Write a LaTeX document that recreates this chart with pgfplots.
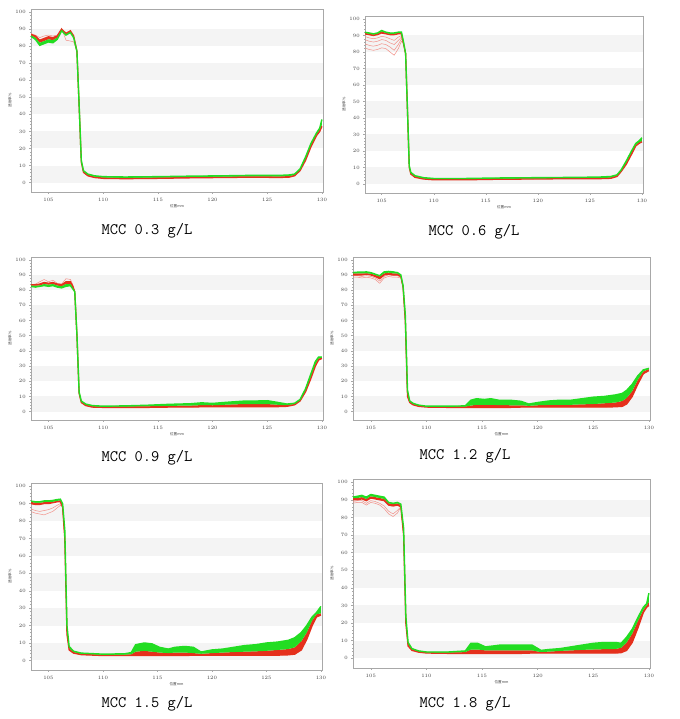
\documentclass[border=0pt]{standalone}
\usepackage{fontspec}
\setmainfont{Liberation Serif}
\newfontfamily\cjk{Noto Sans CJK SC}
\usepackage{pgfplots}
\usepackage{pgfplotstable}
\pgfplotsset{compat=1.18}
\usepgfplotslibrary{fillbetween}

\definecolor{lgreen}{HTML}{22DD22}
\definecolor{lred}{HTML}{E5301C}
\definecolor{pinkl}{HTML}{F29088}
\definecolor{bandgray}{HTML}{F4F4F4}
\definecolor{axframe}{HTML}{A8A8A8}

% MCC 0.3 g/L
\pgfplotstableread{
x r m g p1 p2 p3 p4
103.35 87 86.5 86 87.5 nan nan nan
103.8 86 85 84 86.5 nan nan nan
104.2 83.5 82 80.5 85 nan nan nan
104.6 84.5 83 81.5 86 nan nan nan
105.0 85.5 84 82.5 86.5 nan nan nan
105.4 85 83.5 82 86 nan nan nan
105.8 86 85 84 86.5 nan nan nan
106.2 90 89.5 89 90.5 nan nan nan
106.6 87.5 87 86.5 83.5 nan nan nan
107.0 89 88.5 88 83 nan nan nan
107.3 86 85.5 85 82.5 nan nan nan
107.6 77 77 77 77 nan nan nan
107.8 45 45 46 45 nan nan nan
108.0 12 12 13 nan nan nan nan
108.2 6 6.5 7 nan nan nan nan
108.6 4 4.5 5 nan nan nan nan
109.2 3 3.5 4 nan nan nan nan
110 2.5 3 3.5 nan nan nan nan
112 2.3 2.8 3.3 nan nan nan nan
115 2.5 3 3.5 nan nan nan nan
118 2.8 3.3 3.8 nan nan nan nan
121 3 3.5 4 nan nan nan nan
124 3.2 3.7 4.3 nan nan nan nan
126 3 3.6 4.2 nan nan nan nan
127 3.2 3.8 4.5 nan nan nan nan
127.5 4 4.5 5 nan nan nan nan
128 7 7.5 8 nan nan nan nan
128.5 13 14 15 nan nan nan nan
129 21 22 23 nan nan nan nan
129.5 27.5 28.5 29 nan nan nan nan
129.8 30 31 32 nan nan nan nan
130 33 34 37 nan nan nan nan
}\tA

% MCC 0.6 g/L
\pgfplotstableread{
x r m g p1 p2 p3 p4
103.35 91 91.5 92 89.5 87.5 85 82.5
103.8 90.5 91 91.5 88.5 86.5 84 81.5
104.2 90 90.5 91 88 86 83.5 81
104.6 90.5 91 91.5 88.5 86.5 84 81.5
105.0 91.5 92.5 93 89.5 87.5 85 82.5
105.4 91 91.5 92 89 87 84.5 82
105.8 90.5 91 91.5 88 85.5 83 80
106.2 90.5 91 91.5 87 84.5 81 78
106.6 91 91.5 92 89 87 84.5 82
106.9 91 91.5 92 90 89 88 86.5
107.1 85 85.5 86 85 85 85 85
107.3 79 79 79 79 79 79 79
107.5 40 40 41 nan nan nan nan
107.65 10 10.5 11 nan nan nan nan
107.8 6 6.5 7 nan nan nan nan
108.2 4 4.5 5 nan nan nan nan
109 3 3.3 3.8 nan nan nan nan
110 2.5 2.8 3.3 nan nan nan nan
113 2.5 2.8 3.3 nan nan nan nan
116 2.8 3.1 3.6 nan nan nan nan
120 3 3.3 3.8 nan nan nan nan
124 3.2 3.5 4 nan nan nan nan
126 3.2 3.6 4.2 nan nan nan nan
127 3.4 3.8 4.5 nan nan nan nan
127.6 4.5 5 5.5 nan nan nan nan
128 7.5 8 8.5 nan nan nan nan
128.5 12 13 14 nan nan nan nan
129 18 19 20 nan nan nan nan
129.4 23 23.5 24.5 nan nan nan nan
129.7 24.5 25 26 nan nan nan nan
130 25.5 26 28 nan nan nan nan
}\tB

% MCC 0.9 g/L
\pgfplotstableread{
x r m g p1 p2 p3 p4
103.35 83.5 83 82.5 83.5 nan nan nan
103.8 83.5 83 82 84 nan nan nan
104.2 84 83 82.5 85.5 nan nan nan
104.6 85 84 83 87 nan nan nan
105.0 84.5 83.5 82.5 85.5 nan nan nan
105.4 85 84 83 86.5 nan nan nan
105.8 84 83 82 84.5 nan nan nan
106.2 83.5 82.5 81.5 84 nan nan nan
106.6 85.5 84 82.5 87.5 nan nan nan
107.0 85.5 84 83 87 nan nan nan
107.2 83 82 81 84 nan nan nan
107.4 79 79 79 79 nan nan nan
107.6 50 50 51 nan nan nan nan
107.8 12 12 13 nan nan nan nan
108.0 6 6.5 7 nan nan nan nan
108.4 4 4.5 5 nan nan nan nan
109 3 3.5 4 nan nan nan nan
110 2.8 3.2 3.6 nan nan nan nan
112 2.8 3.3 3.8 nan nan nan nan
114 2.8 3.5 4.2 nan nan nan nan
116 3 3.8 4.8 nan nan nan nan
118 3 4 5.2 nan nan nan nan
119 3.2 4.3 5.8 nan nan nan nan
120 3.2 4.2 5.4 nan nan nan nan
121 3.3 4.5 6 nan nan nan nan
122 3.3 4.8 6.5 nan nan nan nan
123 3.3 5 7 nan nan nan nan
124 3.3 5 7 nan nan nan nan
125 3.3 5 7.2 nan nan nan nan
126 3.3 4.5 6 nan nan nan nan
126.8 3.5 4.2 5 nan nan nan nan
127.5 4.5 5 5.5 nan nan nan nan
128 7 7.5 8 nan nan nan nan
128.5 13 14 15 nan nan nan nan
129 22 23 25 nan nan nan nan
129.4 30 31 33 nan nan nan nan
129.7 34 35 36 nan nan nan nan
130 35 35.5 36 nan nan nan nan
}\tC

% MCC 1.2 g/L
\pgfplotstableread{
x r m g p1 p2 p3 p4
103.35 90 91 91.5 88.5 89.5 nan nan
103.8 90 91 91.8 88.5 89.5 nan nan
104.2 90 91 91.8 88 89 nan nan
104.6 90.5 91 92 88.5 89.5 nan nan
105.0 90 90.8 91.5 88 89 nan nan
105.4 89 90 90.5 87 88 nan nan
105.8 87.5 89 89.5 84.5 86 nan nan
106.2 90 91 92 88 89 nan nan
106.6 90.5 91.5 92.3 89 90 nan nan
107.0 90 91 92 88.5 89.5 nan nan
107.4 90 91 91.5 88.5 89.5 nan nan
107.7 89 89.5 90 88 88.5 nan nan
107.9 82 82.5 83 82 82 nan nan
108.1 60 62 64 60 60 nan nan
108.3 10 12 14 10 10 nan nan
108.5 6 6.5 7 nan nan nan nan
108.8 4.5 5 5.5 nan nan nan nan
109.3 3.5 4 4.3 nan nan nan nan
110 3 3.3 3.6 nan nan nan nan
112 2.8 3.2 3.6 nan nan nan nan
113.5 2.8 3.3 3.8 nan nan nan nan
114 2.8 4 7.5 nan nan nan nan
114.5 2.8 4.5 8.5 nan nan nan nan
115.2 2.8 4.5 8 nan nan nan nan
115.8 2.8 4.5 8.5 nan nan nan nan
116.5 2.8 4.3 7.5 nan nan nan nan
117.5 2.8 4.2 7.5 nan nan nan nan
118.5 3 4.2 6.8 nan nan nan nan
119.2 3 3.8 5 nan nan nan nan
120 3 4.2 6 nan nan nan nan
121 3 4.4 7 nan nan nan nan
122 3 4.5 7.5 nan nan nan nan
123 3 4.5 7.5 nan nan nan nan
124 3 4.8 8.5 nan nan nan nan
125 3 5 9.5 nan nan nan nan
126 3 5.5 10 nan nan nan nan
127 3.2 6 11 nan nan nan nan
127.6 3.5 7 12 nan nan nan nan
128 5 9 14 nan nan nan nan
128.5 10 13.5 18 nan nan nan nan
129 18 21 23.5 nan nan nan nan
129.5 25 26.5 27.5 nan nan nan nan
130 27 28 28.5 nan nan nan nan
}\tD

% MCC 1.5 g/L
\pgfplotstableread{
x r m g p1 p2 p3 p4
103.35 90 91 91.5 87 85.5 nan nan
103.8 89.5 90.5 91 86 84.5 nan nan
104.2 89.5 90.5 91 85.5 84 nan nan
104.6 90 90.8 91.5 86 83.5 nan nan
105.0 90 91 91.5 86.5 84.5 nan nan
105.4 90.5 91 91.8 87.5 85.5 nan nan
105.8 91 91.5 92.3 89 87.5 nan nan
106.1 91 92 92.5 90 89 nan nan
106.3 88 89 90 88 88 nan nan
106.5 70 72 75 70 70 nan nan
106.7 15 17 20 nan nan nan nan
106.9 6 7 8 nan nan nan nan
107.3 4.2 4.8 5.3 nan nan nan nan
108 3.3 3.8 4.2 nan nan nan nan
110 2.8 3.2 3.6 nan nan nan nan
112 2.8 3.3 3.8 nan nan nan nan
112.6 2.8 3.5 4.5 nan nan nan nan
113 2.8 5 9 nan nan nan nan
113.8 2.8 5.5 10 nan nan nan nan
114.5 2.8 5 9.5 nan nan nan nan
115.2 2.8 4.5 7.5 nan nan nan nan
116 2.8 4.2 6.5 nan nan nan nan
116.6 2.8 4.5 7.5 nan nan nan nan
117.5 2.8 4.5 8 nan nan nan nan
118.3 3 4.2 7.5 nan nan nan nan
119 3 3.8 4.8 nan nan nan nan
120 3 4.2 6 nan nan nan nan
121 3 4.5 6.5 nan nan nan nan
122 3 4.8 7.5 nan nan nan nan
123 3 5 8.5 nan nan nan nan
124 3 5.2 9 nan nan nan nan
125 3 5.5 10 nan nan nan nan
126 3 6 10.5 nan nan nan nan
127 3.2 6.5 11.5 nan nan nan nan
127.6 3.6 7.5 13 nan nan nan nan
128.2 6 11 16 nan nan nan nan
128.7 12 16 20 nan nan nan nan
129.2 20 23 25 nan nan nan nan
129.6 25 26.5 27.5 nan nan nan nan
130 26 27 31 nan nan nan nan
}\tE

% MCC 1.8 g/L
\pgfplotstableread{
x r m g p1 p2 p3 p4
103.35 90 91 91.5 89 88 nan nan
103.8 90 91 92 89.5 88.5 nan nan
104.2 90.5 91.5 92.5 89.5 88.5 nan nan
104.6 89.5 90.5 91.5 88 87 nan nan
105.0 91 92 93 89.5 88.5 nan nan
105.4 90.5 91.5 92.5 89 88 nan nan
105.8 90 91 92 88 87 nan nan
106.2 89.5 90.5 91.5 86.5 85 nan nan
106.6 87 88 88.5 83.5 82 nan nan
107.0 86.5 87.5 88 82 80.5 nan nan
107.4 87 88 88.5 84 82.5 nan nan
107.7 86 87 87.5 86 86 nan nan
107.95 70 72 74 70 70 nan nan
108.15 20 22 24 nan nan nan nan
108.35 7 8 9 nan nan nan nan
108.7 4.5 5 5.5 nan nan nan nan
109.3 3.5 3.9 4.2 nan nan nan nan
110 3 3.3 3.6 nan nan nan nan
112 2.8 3.2 3.6 nan nan nan nan
113.5 2.8 3.5 4.2 nan nan nan nan
114 2.8 5 8.5 nan nan nan nan
114.6 2.8 5 8.5 nan nan nan nan
115.3 2.8 4.5 6.5 nan nan nan nan
116 2.8 4.5 7 nan nan nan nan
116.6 2.8 4.5 7.5 nan nan nan nan
117.5 2.8 4.5 7.5 nan nan nan nan
118.5 2.8 4.5 7.5 nan nan nan nan
119.5 3 4.5 7.5 nan nan nan nan
120.3 3 3.5 4.5 nan nan nan nan
121 3 3.8 5 nan nan nan nan
122 3 4.2 5.5 nan nan nan nan
123 3 4.5 6.5 nan nan nan nan
124 3 4.8 7.5 nan nan nan nan
125 3 5 8.5 nan nan nan nan
126 3 5.2 9 nan nan nan nan
127 3 5.3 9 nan nan nan nan
127.5 3.2 6 8.5 nan nan nan nan
128 4.5 9 12 nan nan nan nan
128.5 9 14 16.5 nan nan nan nan
129 17 21 23 nan nan nan nan
129.5 26 27.5 29 nan nan nan nan
129.8 29 30 31 nan nan nan nan
130 30 32 37 nan nan nan nan
}\tF

\pgfplotsset{turbi/.style={
  scale only axis, anchor=south west, set layers,
  xmin=103.4, xmax=130.1, ymin=-5.5, ymax=101.8,
  axis line style={axframe, line width=0.6pt},
  xtick={105,110,...,130}, ytick={0,10,...,100},
  minor x tick num=4, minor y tick num=4,
  tick pos=left, tick align=outside,
  tick style={axframe, line width=0.4pt},
  major tick length=1.8pt, minor tick length=1.1pt,
  tick label style={font=\fontsize{3.2}{3.5}\selectfont, text=black!75},
  xticklabel style={yshift=-0.5pt},
  label style={font=\cjk\fontsize{3.6}{4}\selectfont, text=black!75},
  xlabel={位置mm}, ylabel={透射率\%},
  xlabel style={yshift=3pt}, ylabel style={yshift=-3pt},
  unbounded coords=jump, clip=true,
}}

\newcommand\panel[6]{%
\begin{axis}[turbi, at={(#1pt,#2pt)}, width=#3pt, height=#4pt]
  \begin{pgfonlayer}{axis background}
  \fill[bandgray] (axis cs:103.4,0) rectangle (axis cs:130.1,10);
  \fill[bandgray] (axis cs:103.4,20) rectangle (axis cs:130.1,30);
  \fill[bandgray] (axis cs:103.4,40) rectangle (axis cs:130.1,50);
  \fill[bandgray] (axis cs:103.4,60) rectangle (axis cs:130.1,70);
  \fill[bandgray] (axis cs:103.4,80) rectangle (axis cs:130.1,90);
  \end{pgfonlayer}
  \pgfplotsinvokeforeach{#6}{\addplot[pinkl, line width=0.5pt] table[x=x, y=##1] {#5};}
  \addplot[name path=R, lred, line width=1.3pt] table[x=x, y=r] {#5};
  \addplot[name path=M, draw=none] table[x=x, y=m] {#5};
  \addplot[name path=G, draw=none] table[x=x, y=g] {#5};
  \addplot[fill=lred, draw=none] fill between[of=R and M];
  \addplot[fill=lgreen, draw=none] fill between[of=M and G];
  \addplot[lgreen, line width=1.4pt] table[x=x, y=g] {#5};
\end{axis}}

\begin{document}
\begin{tikzpicture}
\path (0,0) rectangle (679pt,719pt);
\panel{31}{527}{292}{183}{\tA}{p1}
\panel{365}{526}{278}{177}{\tB}{p1,p2,p3,p4}
\panel{31}{299}{292}{163}{\tC}{p1}
\panel{353}{299}{297}{163}{\tD}{p1,p2}
\panel{31}{49}{291}{187}{\tE}{p1,p2}
\panel{353}{51}{297}{189}{\tF}{p1,p2}
\begin{scope}[every node/.style={font=\ttfamily\fontsize{16}{16}\selectfont, anchor=base}]
\node at (147pt,484pt) {MCC 0.3 g/L};
\node at (474pt,483pt) {MCC 0.6 g/L};
\node at (147pt,257pt) {MCC 0.9 g/L};
\node at (465pt,259pt) {MCC 1.2 g/L};
\node at (147pt,12pt) {MCC 1.5 g/L};
\node at (465pt,11pt) {MCC 1.8 g/L};
\end{scope}
\end{tikzpicture}
\end{document}
